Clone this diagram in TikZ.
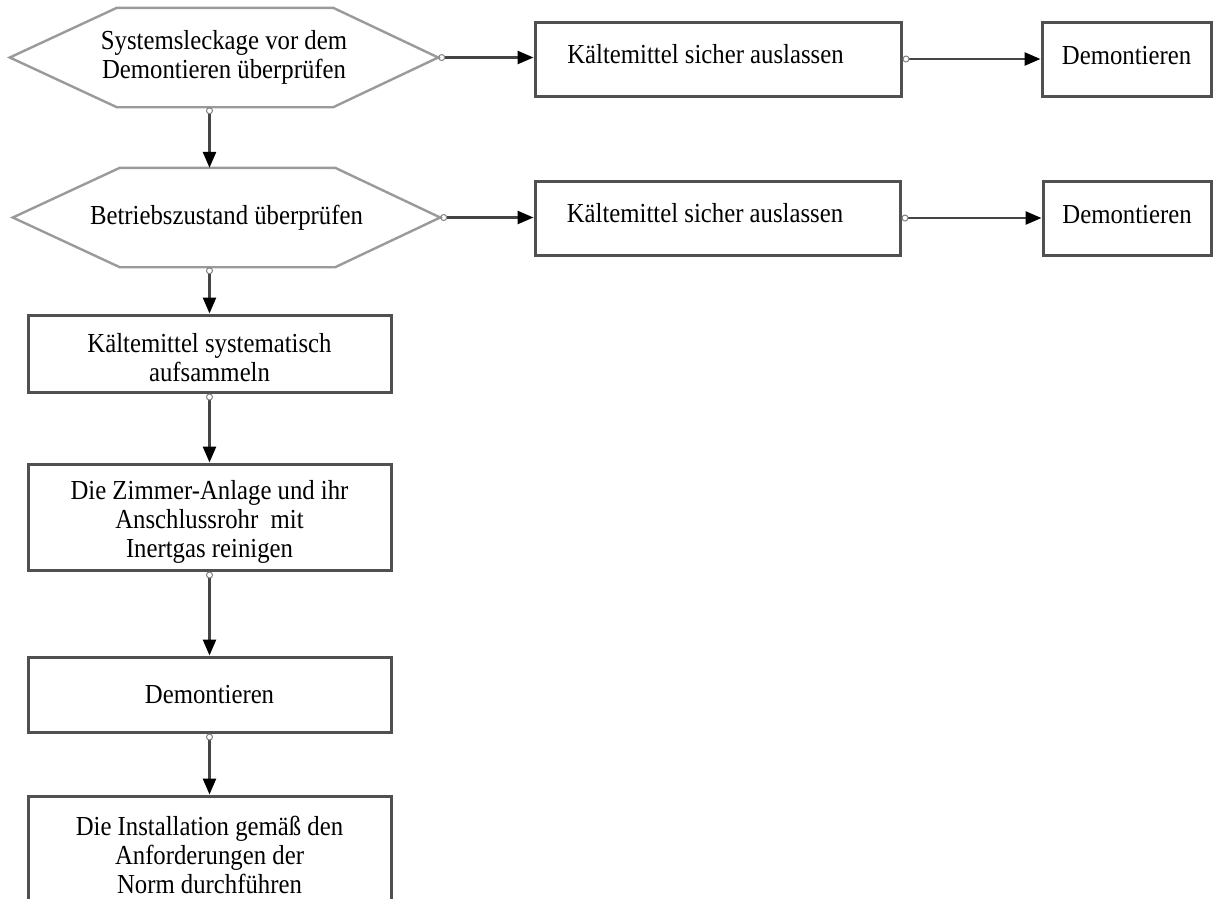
\documentclass[tikz,border=0pt]{standalone}
\usepackage{fontspec}
\setmainfont{Liberation Serif}[FakeStretch=0.9]
\usetikzlibrary{arrows.meta,calc}
\definecolor{boxline}{HTML}{505050}
\definecolor{hexline}{HTML}{9A9A9A}
\definecolor{conline}{HTML}{454545}
\begin{document}
\begin{tikzpicture}[x=1pt,y=-1pt,
  every node/.style={font=\fontsize{27.5}{29}\selectfont, inner sep=0pt, text=black},
  stepbox/.style={draw=boxline, line width=3pt, minimum width=363pt, align=center},
  sidebox/.style={draw=boxline, line width=3pt, minimum height=74pt},
  hexnode/.style={minimum height=99pt, align=center},
  hexline/.style={draw=hexline, line width=2.4pt, line join=miter},
  conn/.style={draw=conline, line width=2.6pt,
    {Circle[open,length=7pt,width=7pt,line width=1pt,color=gray]}-{Triangle[length=16pt,width=13pt,color=black,fill=black]}}
]
\clip (0,0) rectangle (1215,898);
\fill[white] (0,0) rectangle (1215,898);

% decision hexagons (text holders)
\node[hexnode, minimum width=428pt] (h1) at (224,57.5) {Systemsleckage vor dem\\Demontieren überprüfen};
\node[hexnode, minimum width=427pt] (h2) at (226.5,217.5) {Betriebszustand überprüfen};
\draw[hexline] (h1.west) -- ($(h1.north west)+(107,0)$) -- ($(h1.north east)+(-105,0)$) -- (h1.east)
  -- ($(h1.south east)+(-105,0)$) -- ($(h1.south west)+(107,0)$) -- cycle;
\draw[hexline] (h2.west) -- ($(h2.north west)+(107,0)$) -- ($(h2.north east)+(-105,0)$) -- (h2.east)
  -- ($(h2.south east)+(-105,0)$) -- ($(h2.south west)+(107,0)$) -- cycle;

% right-hand boxes
\node[sidebox, minimum width=366pt, text depth=11pt] (a1) at (718,59) {Kältemittel sicher auslassen\hspace*{25pt}};
\node[sidebox, minimum width=169pt, text depth=7pt] (b1) at (1126.5,59) {Demontieren};
\node[sidebox, minimum width=365pt, text depth=11pt] (a2) at (717.5,218) {Kältemittel sicher auslassen\hspace*{25pt}};
\node[sidebox, minimum width=168pt, text depth=7pt] (b2) at (1127,218) {Demontieren};

% left column boxes
\node[stepbox, minimum height=77pt] (c) at (209.5,353.5) {\rule{0pt}{28pt}Kältemittel systematisch\\aufsammeln};
\node[stepbox, minimum height=106pt] (d) at (209.5,517) {\rule{0pt}{29pt}Die Zimmer-Anlage und ihr\\Anschlussrohr\ \ mit\\Inertgas reinigen};
\node[stepbox, minimum height=75pt] (e) at (209.5,694.5) {Demontieren};
\node[stepbox, minimum height=118pt] (f) at (209.5,855) {Die Installation gemäß den\\Anforderungen der\\Norm durchführen};

% connectors
\draw[conn] (h1.east) -- (h1.east -| a1.west);
\draw[conn] (a1.east) -- (b1.west);
\draw[conn] (h2.east) -- (h2.east -| a2.west);
\draw[conn] (a2.east) -- (b2.west);
\draw[conn] (h1.south -| c.north) -- (h2.north -| c.north);
\draw[conn] (h2.south -| c.north) -- (c.north);
\draw[conn] (c.south) -- (d.north);
\draw[conn] (d.south) -- (e.north);
\draw[conn] (e.south) -- (f.north);
\end{tikzpicture}
\end{document}
